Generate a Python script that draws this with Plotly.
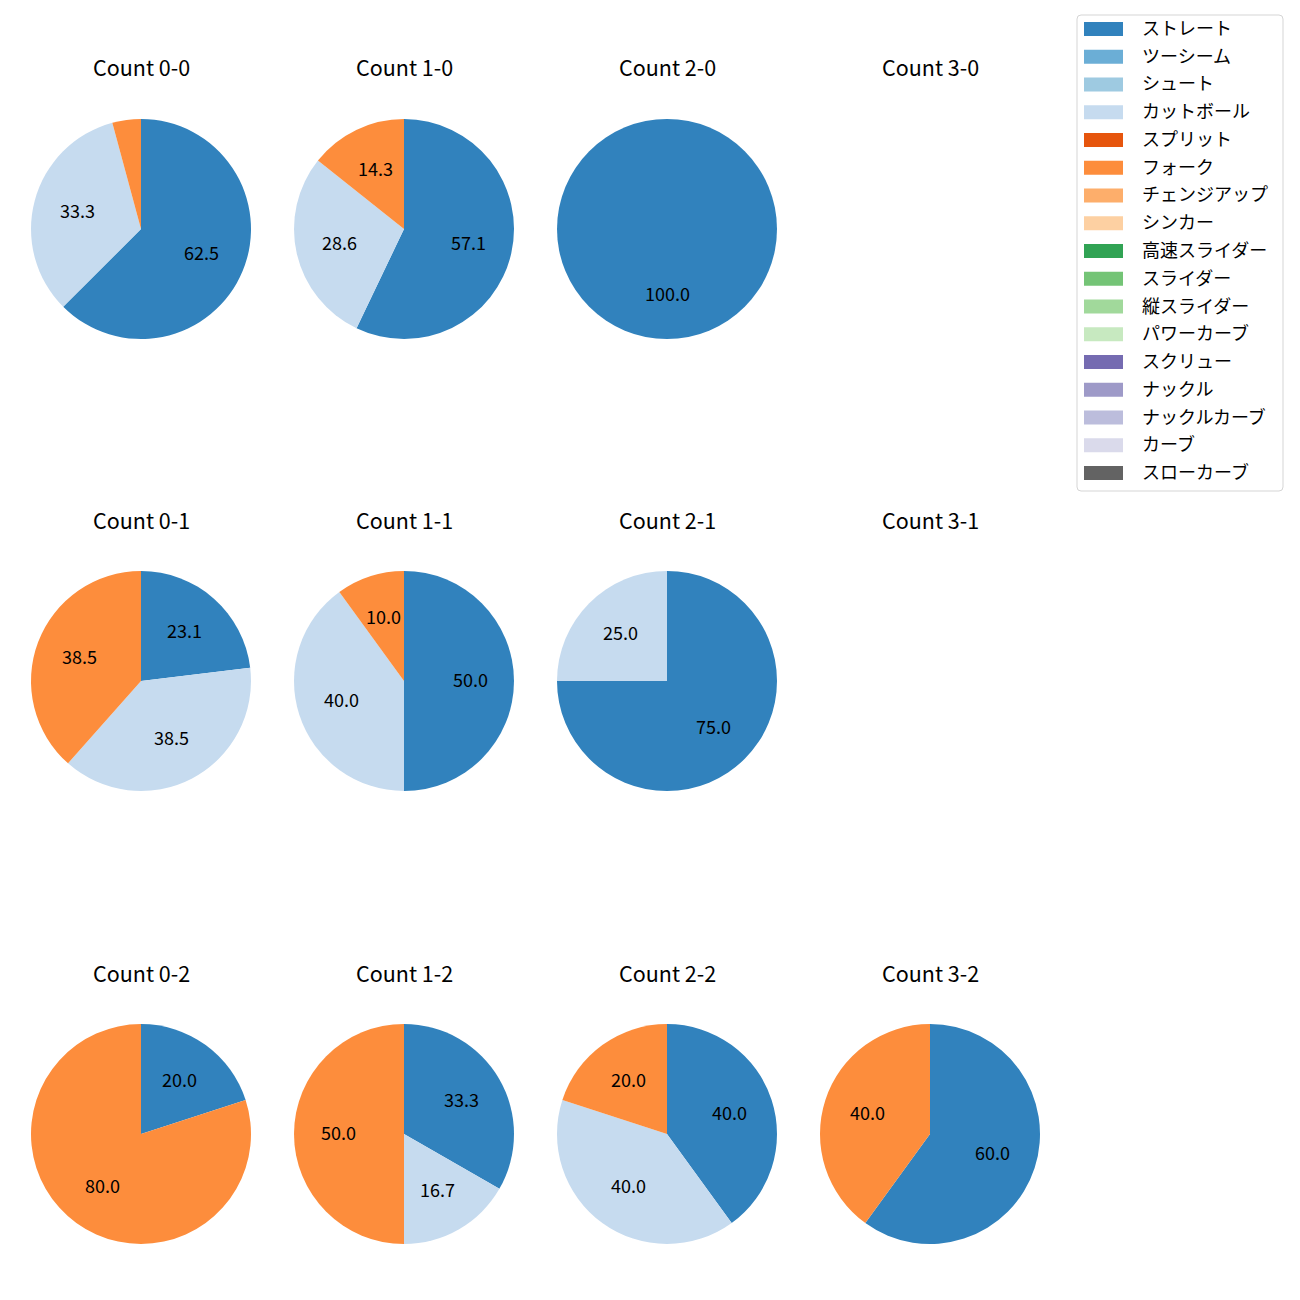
import math
import plotly.graph_objects as go

# ---- data ----
pitch_types = ["ストレート", "ツーシーム", "シュート", "カットボール", "スプリット", "フォーク",
               "チェンジアップ", "シンカー", "高速スライダー", "スライダー", "縦スライダー",
               "パワーカーブ", "スクリュー", "ナックル", "ナックルカーブ", "カーブ", "スローカーブ"]
pitch_colors = ["#3182bd", "#6baed6", "#9ecae1", "#c6dbef", "#e6550d", "#fd8d3c",
                "#fdae6b", "#fdd0a2", "#31a354", "#74c476", "#a1d99b", "#c7e9c0",
                "#756bb1", "#9e9ac8", "#bcbddc", "#dadaeb", "#636363"]
count_labels = ["0-0", "1-0", "2-0", "3-0",
                "0-1", "1-1", "2-1", "3-1",
                "0-2", "1-2", "2-2", "3-2"]
straight_pct = [62.5, 57.1, 100.0, 0, 23.1, 50.0, 75.0, 0, 20.0, 33.3, 40.0, 60.0]
cutball_pct = [33.3, 28.6, 0, 0, 38.5, 40.0, 25.0, 0, 0, 16.7, 40.0, 0]
fork_pct = [4.2, 14.3, 0, 0, 38.5, 10.0, 0, 0, 80.0, 50.0, 20.0, 40.0]

# ---- layout constants ----
W = H = 1300
OFF = 8  # page body margin
FONT = "Noto Sans CJK JP"
col_cx = [141, 404, 667, 930]
row_cy = [229, 681, 1134]
R = 110
title_offset = 162
text_dy = -2  # font baseline correction
min_label_pct = 5.0

fig = go.Figure()
annotations = []
shapes = []


def px(x):
    return (x - OFF) / W


def py(y):
    return 1 - (y - OFF) / H


for i, cnt in enumerate(count_labels):
    cx = col_cx[i % 4]
    cy = row_cy[i // 4]
    annotations.append(dict(x=px(cx), y=py(cy - title_offset), xref="paper", yref="paper",
                            text=f"Count {cnt}", showarrow=False, xanchor="center",
                            yanchor="middle", font=dict(size=21.5, color="black", family=FONT)))
    vals = [0.0] * len(pitch_types)
    vals[pitch_types.index("ストレート")] = straight_pct[i]
    vals[pitch_types.index("カットボール")] = cutball_pct[i]
    vals[pitch_types.index("フォーク")] = fork_pct[i]
    labs = [p for p, v in zip(pitch_types, vals) if v > 0]
    vs = [v for v in vals if v > 0]
    cols = [c for c, v in zip(pitch_colors, vals) if v > 0]
    if not vs:
        continue
    fig.add_trace(go.Pie(
        labels=labs, values=vs, sort=False, direction="clockwise", rotation=0,
        marker=dict(colors=cols, line=dict(width=0)),
        textinfo="none", showlegend=False, hoverinfo="label+percent",
        domain=dict(x=[px(cx - R), px(cx + R)], y=[py(cy + R), py(cy - R)]),
    ))
    total = sum(vs)
    cum = 0.0
    for v in vs:
        frac_mid = (cum + v / 2) / total
        cum += v
        pct = 100 * v / total
        if pct < min_label_pct:
            continue
        ang = math.radians(90 - 360 * frac_mid)
        lx = cx + 0.6 * R * math.cos(ang)
        ly = cy - 0.6 * R * math.sin(ang)
        annotations.append(dict(x=px(lx), y=py(ly + text_dy), xref="paper", yref="paper",
                                text=f"{pct:.1f}", showarrow=False, xanchor="center",
                                yanchor="middle", font=dict(size=18, color="black", family=FONT)))

# ---- manual legend (matplotlib style) ----
lx0, lx1, ly0, ly1, rr = 1077, 1283, 15, 491, 4
path = (f"M {px(lx0+rr)},{py(ly0)} L {px(lx1-rr)},{py(ly0)} Q {px(lx1)},{py(ly0)} {px(lx1)},{py(ly0+rr)} "
        f"L {px(lx1)},{py(ly1-rr)} Q {px(lx1)},{py(ly1)} {px(lx1-rr)},{py(ly1)} "
        f"L {px(lx0+rr)},{py(ly1)} Q {px(lx0)},{py(ly1)} {px(lx0)},{py(ly1-rr)} "
        f"L {px(lx0)},{py(ly0+rr)} Q {px(lx0)},{py(ly0)} {px(lx0+rr)},{py(ly0)} Z")
shapes.append(dict(type="path", path=path, xref="paper", yref="paper",
                   line=dict(color="#d5d5d5", width=1), fillcolor="rgba(255,255,255,0.8)"))
row0, row_step = 29, 27.75
for k, (name, col) in enumerate(zip(pitch_types, pitch_colors)):
    yc = row0 + k * row_step
    shapes.append(dict(type="rect", xref="paper", yref="paper",
                       x0=px(1084), x1=px(1123), y0=py(yc - 7), y1=py(yc + 7),
                       fillcolor=col, line=dict(width=0)))
    annotations.append(dict(x=px(1140), y=py(yc + text_dy), xref="paper", yref="paper", text=name,
                            showarrow=False, xanchor="left", yanchor="middle",
                            font=dict(size=18, color="black", family=FONT)))

fig.update_layout(
    width=W, height=H, margin=dict(l=0, r=0, t=0, b=0),
    paper_bgcolor="white", plot_bgcolor="white",
    annotations=annotations, shapes=shapes, showlegend=False,
    font=dict(family=FONT),
)

fig.write_html("out.html")
